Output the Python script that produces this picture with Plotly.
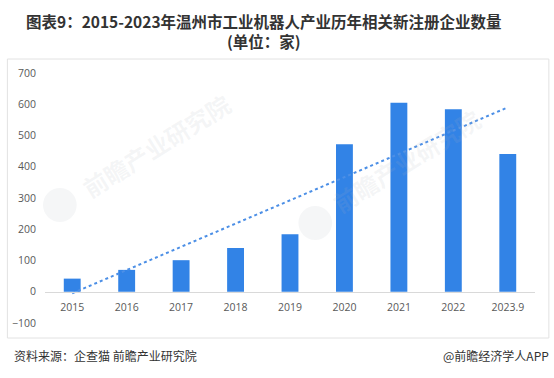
import plotly.graph_objects as go

categories = ["2015", "2016", "2017", "2018", "2019", "2020", "2021", "2022", "2023.9"]
values = [42, 70, 101, 140, 184, 472, 605, 584, 441]
trend_ends = [-5, 590]  # dotted trend line read at first and last category
y_ticks = [-100, 0, 100, 200, 300, 400, 500, 600, 700]

title_text = "图表9：2015-2023年温州市工业机器人产业历年相关新注册企业数量<br>(单位：家)"
source_text = "资料来源：企查猫 前瞻产业研究院"
brand_text = "@前瞻经济学人APP"
watermark_text = "前瞻产业研究院"

W, H = 554, 378
L, R, T, B = 40, 19, 73, 55
pw, ph = W - L - R, H - T - B

def px(x):
    return (x - L) / pw

def py(y):
    return (H - B - y) / ph

fig = go.Figure()

fig.add_trace(go.Bar(
    x=categories, y=values,
    marker=dict(color="#3283E6", line=dict(width=0)),
    hoverinfo="x+y",
))
fig.add_trace(go.Scatter(
    x=[categories[0], categories[-1]], y=trend_ends,
    mode="lines",
    line=dict(color="#4C8FE6", width=2, dash="dot"),
    hoverinfo="skip",
))

tick_font = dict(family="Open Sans, Liberation Sans, sans-serif", size=10.5, color="#595959")
cjk = "Noto Sans CJK SC, sans-serif"

fig.update_layout(
    width=W, height=H,
    margin=dict(l=L, r=R, t=T, b=B),
    paper_bgcolor="white", plot_bgcolor="rgba(0,0,0,0)",
    showlegend=False,
    bargap=0.69,
    xaxis=dict(
        type="category",
        anchor="free", position=100 / 800,
        showline=True, linecolor="#D9D9D9", linewidth=1,
        ticks="", showgrid=False, zeroline=False,
        tickfont=tick_font, ticklabelstandoff=6,
        fixedrange=True,
    ),
    yaxis=dict(
        range=[-100, 700], tickvals=y_ticks,
        showgrid=False, zeroline=False, showline=False, ticks="",
        tickfont=tick_font, ticklabelstandoff=8,
        fixedrange=True,
    ),
)

# outer frame
fig.add_shape(type="rect", xref="paper", yref="paper",
              x0=px(2), x1=px(549), y0=py(338), y1=py(59),
              line=dict(color="#E2E2E2", width=1), layer="below")

# watermarks (faint)
for (cx, cy, lx, ly) in [(55, 205, 152, 145), (313, 223, 405, 160)]:
    fig.add_shape(type="circle", xref="paper", yref="paper",
                  x0=px(cx - 17), x1=px(cx + 17), y0=py(cy + 17), y1=py(cy - 17),
                  fillcolor="rgba(170,178,190,0.12)", line=dict(width=0), layer="below")
    fig.add_annotation(xref="paper", yref="paper", x=px(lx), y=py(ly),
                       xanchor="center", yanchor="middle",
                       text="<b>" + watermark_text + "</b>", showarrow=False,
                       textangle=-32,
                       font=dict(family=cjk, size=24, color="rgba(170,178,190,0.13)"))

# title
fig.add_annotation(xref="paper", yref="paper", x=px(261), y=py(31),
                   xanchor="center", yanchor="middle",
                   text="<b>" + title_text + "</b>", showarrow=False,
                   font=dict(family=cjk, size=15.5, color="#333333"))

fig.add_annotation(xref="paper", yref="paper", x=px(7), y=py(355),
                   xanchor="left", yanchor="middle", text=source_text, showarrow=False,
                   font=dict(family=cjk, size=12, color="#333333"))
fig.add_annotation(xref="paper", yref="paper", x=px(551), y=py(355),
                   xanchor="right", yanchor="middle", text=brand_text, showarrow=False,
                   font=dict(family=cjk, size=12, color="#333333"))

fig.write_html("out.html",
               config={"displayModeBar": False},
               post_script="document.body.style.margin='0';document.body.style.overflow='hidden';")
